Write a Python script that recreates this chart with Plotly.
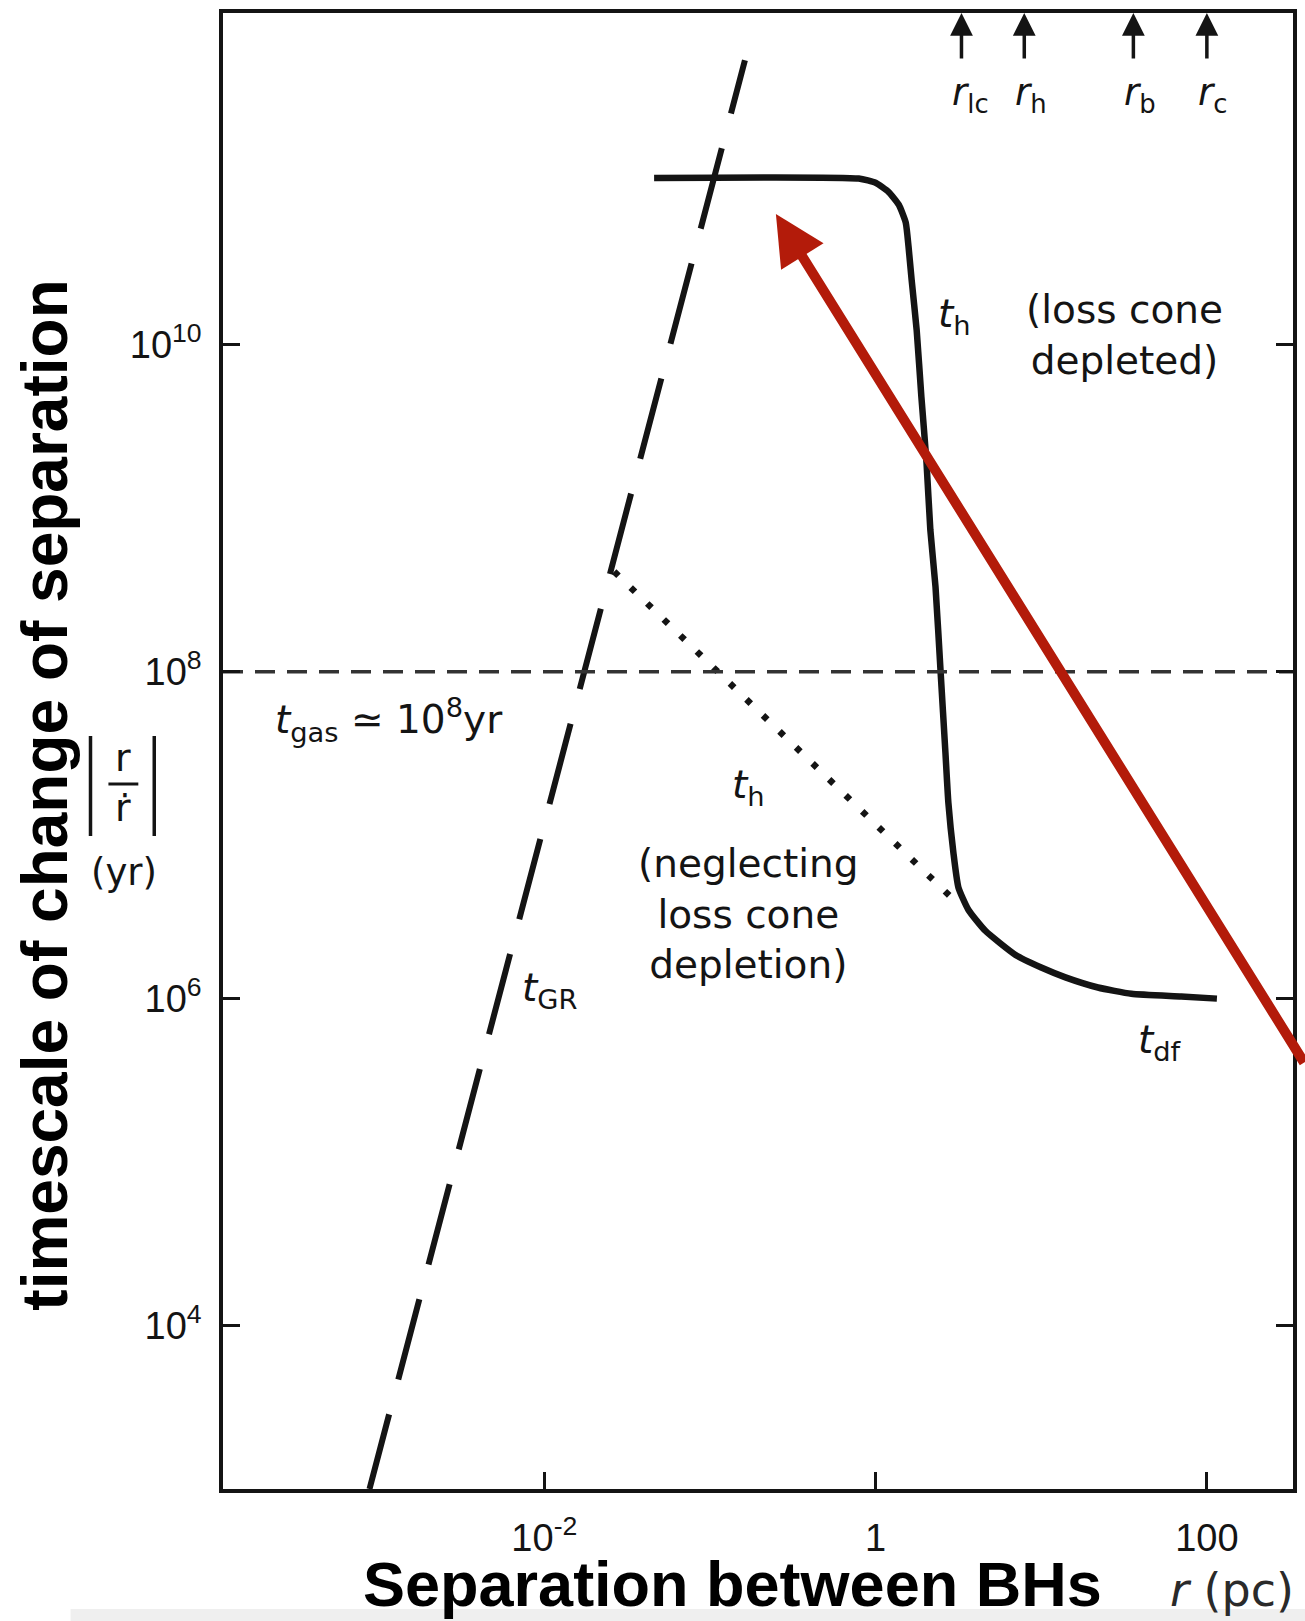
import math
import plotly.graph_objects as go

# ---- data -------------------------------------------------------------
# hardening time t_h with a depleted loss cone, joining dynamical friction t_df
TH_R_PC = [0.046, 0.79, 1.0, 1.20, 1.38, 1.52, 1.58, 1.65, 1.77, 1.89, 2.03,
           2.14, 2.30, 2.47, 2.64, 2.75, 2.95, 3.16, 3.63, 4.6, 7.0, 10.0,
           14.0, 22.0, 35.0, 70.0, 115.0]
TH_T_YR = [1.05e11, 1.04e11, 9.8e10, 8.6e10, 7.2e10, 5.6e10, 4.0e10, 2.5e10,
           1.23e10, 4.8e9, 1.9e9, 7.4e8, 3.3e8, 9.9e7, 3.2e7, 1.58e7, 7.8e6,
           4.8e6, 3.5e6, 2.6e6, 1.85e6, 1.55e6, 1.35e6, 1.17e6, 1.07e6,
           1.03e6, 1.0e6]

# gravitational-radiation timescale t_GR (drawn from its upper end down)
GR_R_PC = [0.1626, 8.8e-4]
GR_T_YR = [5.5e11, 1.0e3]

# hardening neglecting loss cone depletion
NLC_R_PC = [0.0264, 2.87]
NLC_T_YR = [4.1e8, 4.15e6]

# gas timescale
T_GAS_YR = 1e8

# characteristic radii marked along the top
RADIUS_NAMES = ["lc", "h", "b", "c"]
RADIUS_PC = [3.3, 7.9, 36.0, 100.0]

# axis ticks
Y_TICKS = [1e4, 1e6, 1e8, 1e10]
Y_TICK_TEXT = ["10<sup>4</sup>", "10<sup>6</sup>", "10<sup>8</sup>", "10<sup>10</sup>"]
X_TICKS = [1e-2, 1, 100]
X_TICK_TEXT = ["10<sup>-2</sup>", "1", "100"]

X_RANGE = [-3.94, 2.52]   # log10 pc
Y_RANGE = [3.0, 12.03]    # log10 yr

# ---- layout geometry ----------------------------------------------------
W, H = 1305, 1621
ML, MR, MT, MB = 223, 8, 13, 132
PW, PH = W - ML - MR, H - MT - MB


def px_x(px):
    return (px - ML) / PW


def px_y(py):
    return (H - MB - py) / PH


INK = "#141414"
SCAN_FONT = "DejaVu Sans"
NUM_FONT = "Liberation Sans"
RED = "#B31B0A"

fig = go.Figure()

# loss cone depleted hardening curve
fig.add_trace(go.Scatter(
    x=TH_R_PC, y=TH_T_YR, mode="lines",
    line=dict(color=INK, width=6.5, shape="spline", smoothing=0.5),
    hoverinfo="skip", showlegend=False))

# t_GR long-dashed line
gr_dash = "55px,36px," + ",".join(["83px,36px"] * 14)
fig.add_trace(go.Scatter(
    x=GR_R_PC, y=GR_T_YR, mode="lines",
    line=dict(color=INK, width=6, dash=gr_dash),
    hoverinfo="skip", showlegend=False))

# dotted hardening line without loss cone depletion
fig.add_trace(go.Scatter(
    x=NLC_R_PC, y=NLC_T_YR, mode="lines",
    line=dict(color=INK, width=6.5, dash="6px,17px"),
    hoverinfo="skip", showlegend=False))

# t_gas horizontal dashed line across the plot
fig.add_trace(go.Scatter(
    x=[10 ** X_RANGE[0], 10 ** X_RANGE[1]], y=[T_GAS_YR, T_GAS_YR], mode="lines",
    line=dict(color="#333333", width=3.5, dash="20px,12px"),
    hoverinfo="skip", showlegend=False))

annotations = []

# arrows marking characteristic radii at the top edge
for name, r in zip(RADIUS_NAMES, RADIUS_PC):
    annotations.append(dict(
        x=math.log10(r), y=1, xref="x", yref="paper", text="",
        showarrow=True, ax=0, ay=47, arrowhead=2, arrowsize=1.3,
        arrowwidth=3.5, arrowcolor=INK))
    annotations.append(dict(
        x=math.log10(r), y=px_y(95), xref="x", yref="paper",
        text=f"<i>r</i><sub>{name}</sub>", showarrow=False,
        xanchor="left", yanchor="middle", xshift=-11,
        font=dict(family=SCAN_FONT, size=37, color=INK)))


def label(text, cx, cy, size=39, family=SCAN_FONT, color=INK, **kw):
    annotations.append(dict(
        x=px_x(cx), y=px_y(cy), xref="paper", yref="paper", text=text,
        showarrow=False, xanchor="center", yanchor="middle",
        font=dict(family=family, size=size, color=color), **kw))


label("<i>t</i><sub>h</sub>", 957, 316)
label("(loss cone<br>depleted)", 1128, 335)
label("<i>t</i><sub>gas</sub> ≃ 10<sup>8</sup>yr", 390, 720)
label("<i>t</i><sub>h</sub>", 750, 787)
label("(neglecting<br>loss cone<br>depletion)", 750, 914)
label("<i>t</i><sub>GR</sub>", 551, 990)
label("<i>t</i><sub>df</sub>", 1164, 1042)
label("<i>r</i> (pc)", 1236, 1590, size=46, color="#2a2a2a")

# |r / r-dot| (yr) on the left
label("r", 123, 758, size=38)
label("ṙ", 123, 808, size=38)
label("(yr)", 124, 872, size=37)

# bold axis titles
annotations.append(dict(
    x=px_x(734), y=px_y(1621), xref="paper", yref="paper",
    text="Separation between BHs", showarrow=False,
    xanchor="center", yanchor="bottom",
    font=dict(family="Liberation Sans", size=63, color="#000000", weight="bold")))
label("timescale of change of separation", 44, 795, size=64,
      family="Liberation Sans", color="#000000", textangle=-90)
annotations[-1]["font"]["weight"] = "bold"

# red pointer arrow toward the flat part of the curve
annotations.append(dict(
    x=-0.602, y=10.80, xref="x", yref="y", text="",
    showarrow=True, ax=543, ay=850, axref="pixel", ayref="pixel",
    arrowhead=2, arrowsize=1, arrowwidth=10, arrowcolor=RED))

shapes = [
    # light band at the bottom edge
    dict(type="rect", xref="paper", yref="paper",
         x0=px_x(70), x1=px_x(1320), y0=px_y(1609), y1=px_y(1630),
         fillcolor="#efefef", line=dict(width=0), layer="below"),
    # absolute-value bars and fraction bar of |r / r-dot|
    dict(type="line", xref="paper", yref="paper",
         x0=px_x(90), x1=px_x(90), y0=px_y(736), y1=px_y(836),
         line=dict(color=INK, width=3.5)),
    dict(type="line", xref="paper", yref="paper",
         x0=px_x(154), x1=px_x(154), y0=px_y(736), y1=px_y(836),
         line=dict(color=INK, width=3.5)),
    dict(type="line", xref="paper", yref="paper",
         x0=px_x(108), x1=px_x(138), y0=px_y(784), y1=px_y(784),
         line=dict(color=INK, width=3)),
]

axis_common = dict(
    showline=True, linecolor=INK, linewidth=3.5, showgrid=False,
    zeroline=False, ticks="inside", ticklen=17, tickwidth=3, tickcolor=INK,
    tickfont=dict(family=NUM_FONT, size=38, color=INK),
)

fig.update_layout(
    width=W, height=H, autosize=False,
    margin=dict(l=ML, r=MR, t=MT, b=MB, pad=0),
    paper_bgcolor="white", plot_bgcolor="white",
    showlegend=False,
    xaxis=dict(type="log", range=X_RANGE, tickvals=X_TICKS, ticktext=X_TICK_TEXT,
               mirror=True, ticklabelstandoff=13, **axis_common),
    yaxis=dict(type="log", range=Y_RANGE, tickvals=Y_TICKS, ticktext=Y_TICK_TEXT,
               mirror="ticks", ticklabelstandoff=10, **axis_common),
    annotations=annotations,
    shapes=shapes,
)

fig.write_html("out.html")
